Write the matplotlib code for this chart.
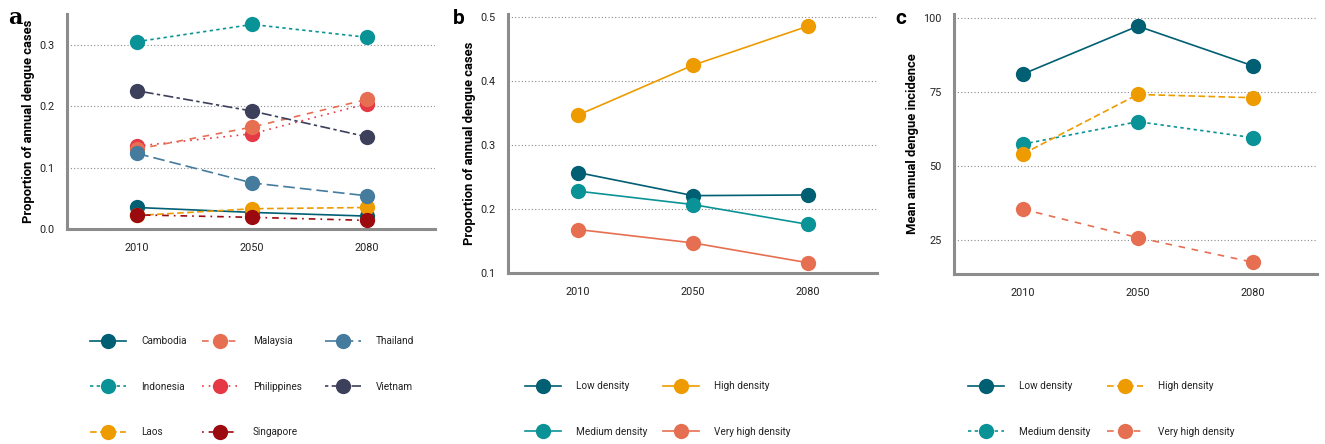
import matplotlib
matplotlib.use("Agg")
import matplotlib.pyplot as plt

plt.rcParams['font.family'] = ['Roboto', 'DejaVu Sans']

years = ["2010", "2050", "2080"]

# panel a: share of annual dengue cases by country
countries = ["Cambodia", "Indonesia", "Laos", "Malaysia",
             "Philippines", "Singapore", "Thailand", "Vietnam"]
cambodia = [0.035, 0.027, 0.021]
indonesia = [0.305, 0.333, 0.312]
laos = [0.022, 0.033, 0.035]
malaysia = [0.130, 0.166, 0.211]
philippines = [0.135, 0.155, 0.204]
singapore = [0.023, 0.019, 0.014]
thailand = [0.123, 0.075, 0.054]
vietnam = [0.225, 0.192, 0.150]

# panel b / c: by population density class
density = ["Low density", "Medium density", "High density", "Very high density"]
prop_low = [0.257, 0.221, 0.222]
prop_medium = [0.228, 0.207, 0.176]
prop_high = [0.347, 0.425, 0.486]
prop_vhigh = [0.168, 0.147, 0.116]

inc_low = [81.2, 97.4, 84.0]
inc_medium = [57.5, 65.1, 59.7]
inc_high = [54.2, 74.3, 73.2]
inc_vhigh = [35.5, 25.9, 17.6]

col = {
    "Cambodia": "#005f73", "Indonesia": "#0a9396", "Laos": "#ee9b00",
    "Malaysia": "#e76f51", "Philippines": "#e63946", "Singapore": "#9b0a0e",
    "Thailand": "#457b9d", "Vietnam": "#3d405b",
}
# ggplot-like linetypes
lt = {
    "Cambodia": "-", "Indonesia": (0, (2, 2)), "Laos": (0, (4, 2)),
    "Malaysia": (0, (4, 4)), "Philippines": (0, (1, 3)),
    "Singapore": (0, (1, 3, 4, 3)), "Thailand": (0, (7, 3)),
    "Vietnam": (0, (2, 2, 6, 2)),
}
dens_col = [col["Cambodia"], col["Indonesia"], col["Laos"], col["Malaysia"]]
dens_lt_c = ["-", (0, (2, 2)), (0, (4, 2)), (0, (4, 4))]

W, H = 1325, 444
fig = plt.figure(figsize=(W / 100, H / 100), dpi=100)


def px_axes(left, right, top, bottom):
    return fig.add_axes([left / W, 1 - bottom / H, (right - left) / W, (bottom - top) / H])


def style(ax, ylabel):
    for s in ["top", "right"]:
        ax.spines[s].set_visible(False)
    for s in ["left", "bottom"]:
        ax.spines[s].set_color("#8c8c8c")
        ax.spines[s].set_linewidth(2.2)
        ax.spines[s].set_zorder(0.5)
    ax.set_xticks(range(len(years)))
    ax.set_xticklabels(years)
    ax.tick_params(length=0, labelsize=7.8, labelcolor="#222222", pad=9)
    ax.tick_params(axis="x", pad=10)
    ax.yaxis.grid(True, color="#8a8a8a", linestyle=(0, (1, 2)), linewidth=0.8)
    ax.set_axisbelow(True)
    ax.set_ylabel(ylabel, fontsize=9.4, fontweight="bold", labelpad=3)


MS = 11
LW = 1.2

# ---- a
ax1 = px_axes(67, 435, 14, 229)
series_a = [cambodia, indonesia, laos, malaysia, philippines, singapore, thailand, vietnam]
order = [0, 1, 2, 4, 3, 5, 6, 7]
for i in order:
    name = countries[i]
    ax1.plot(range(3), series_a[i], color=col[name], linestyle=lt[name], lw=LW,
             marker="o", ms=MS, mec="none", label=name)
ax1.set_xlim(-0.61, 2.59)
ax1.set_ylim(0, 0.35)
ax1.set_yticks([0.0, 0.1, 0.2, 0.3])
ax1.set_yticklabels(["0.0", "0.1", "0.2", "0.3"])
style(ax1, "Proportion of annual dengue cases")

# ---- b
ax2 = px_axes(508, 877, 14, 273)
series_b = [prop_low, prop_medium, prop_high, prop_vhigh]
for name, vals, c in zip(density, series_b, dens_col):
    ax2.plot(range(3), vals, color=c, linestyle="-", lw=LW,
             marker="o", ms=MS, mec="none", label=name)
ax2.set_xlim(-0.61, 2.6)
ax2.set_ylim(0.1, 0.505)
ax2.set_yticks([0.1, 0.2, 0.3, 0.4, 0.5])
ax2.set_yticklabels(["0.1", "0.2", "0.3", "0.4", "0.5"])
style(ax2, "Proportion of annual dengue cases")

# ---- c
ax3 = px_axes(954, 1317, 14, 274)
series_c = [inc_low, inc_medium, inc_high, inc_vhigh]
for name, vals, c, ls in zip(density, series_c, dens_col, dens_lt_c):
    ax3.plot(range(3), vals, color=c, linestyle=ls, lw=LW,
             marker="o", ms=MS, mec="none", label=name)
ax3.set_xlim(-0.6, 2.56)
ax3.set_ylim(13.6, 101.5)
ax3.set_yticks([25, 50, 75, 100])
style(ax3, "Mean annual dengue incidence")

# panel letters
fig.text(8 / W, 1 - 24 / H, "a", fontsize=16, fontweight="bold", family="DejaVu Serif")
fig.text(453 / W, 1 - 24 / H, "b", fontsize=15, fontweight="bold")
fig.text(895 / W, 1 - 24 / H, "c", fontsize=15, fontweight="bold")


# legends, one per column so the columns sit where they should
def col_legend(ax, idx, x_px, y_px):
    handles, labels = ax.get_legend_handles_labels()
    hs = [handles[i] for i in idx]
    ls = [labels[i] for i in idx]
    leg = fig.legend(hs, ls, loc="center left", bbox_to_anchor=(x_px / W, 1 - y_px / H),
                     frameon=False, fontsize=7.2, handlelength=3.6, handletextpad=1.5,
                     labelspacing=3.55, borderpad=0, borderaxespad=0)
    for t in leg.get_texts():
        t.set_color("#222222")


h1, l1 = ax1.get_legend_handles_labels()
pos = {n: k for k, n in enumerate(l1)}
col_legend(ax1, [pos["Cambodia"], pos["Indonesia"], pos["Laos"]], 90, 386.5)
col_legend(ax1, [pos["Malaysia"], pos["Philippines"], pos["Singapore"]], 202, 386.5)
col_legend(ax1, [pos["Thailand"], pos["Vietnam"]], 325, 364)

col_legend(ax2, [0, 1], 525, 409)
col_legend(ax2, [2, 3], 663, 409)
col_legend(ax3, [0, 1], 968, 409)
col_legend(ax3, [2, 3], 1107, 409)

fig.savefig("out.png", dpi=100)
